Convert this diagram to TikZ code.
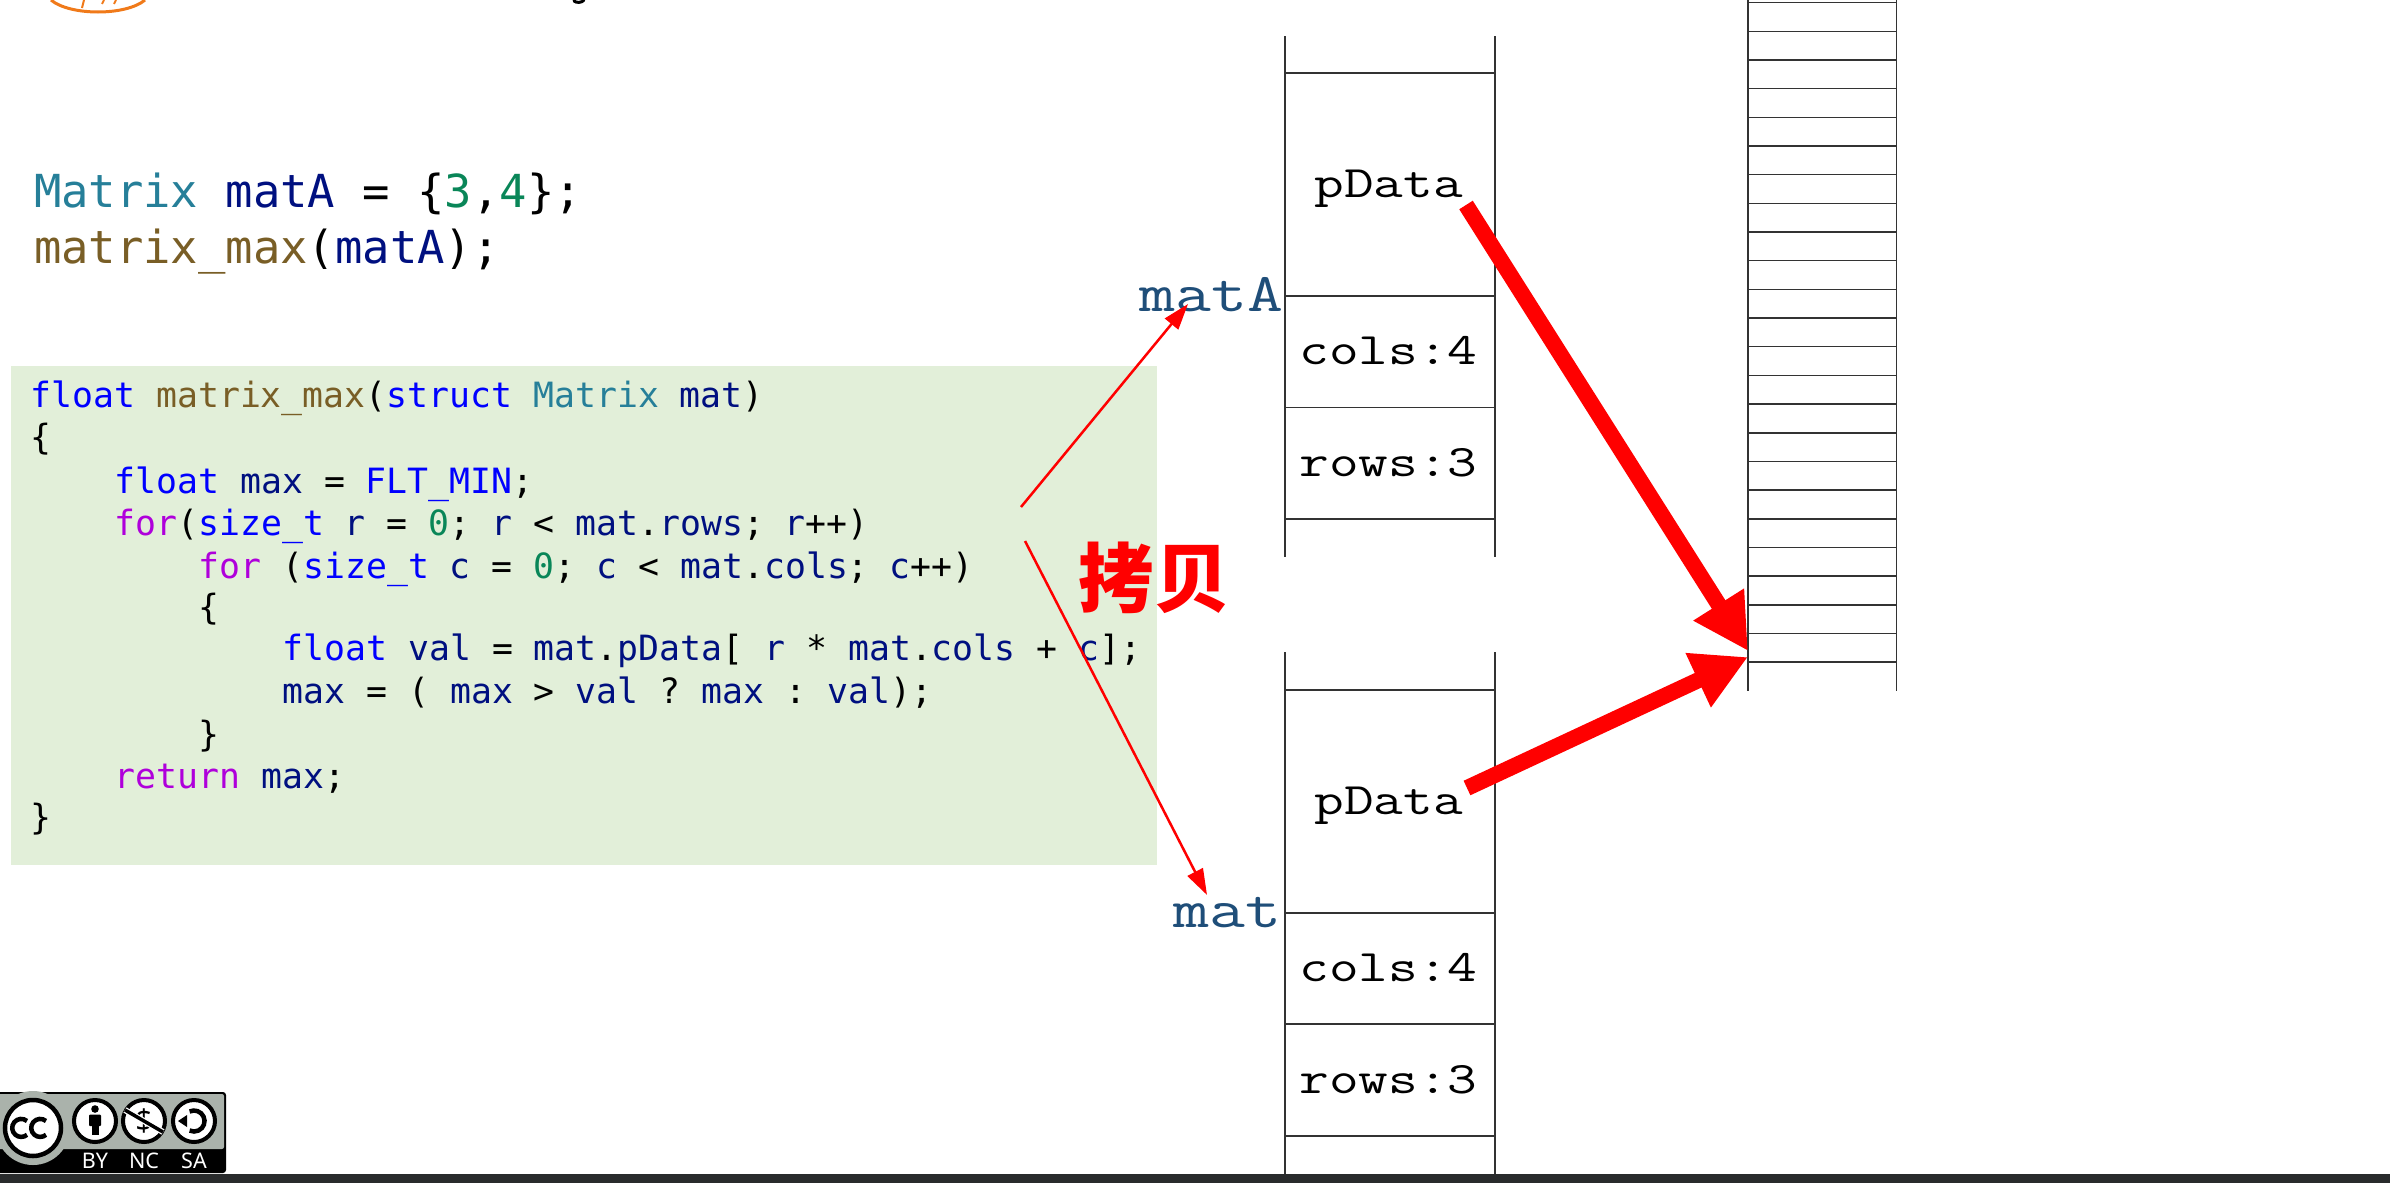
\documentclass[tikz,border=0pt]{standalone}
\usepackage{fontspec}
\usetikzlibrary{arrows.meta}
\frenchspacing
\setmonofont[FakeStretch=1.28]{Latin Modern Mono}
\newfontfamily\codefont{DejaVu Sans Mono}
\newfontfamily\cjkfont{Noto Sans CJK SC}
\newfontfamily\badgefont{Noto Sans}
\definecolor{ckw}{HTML}{0000FF}
\definecolor{cct}{HTML}{AF00DB}
\definecolor{cty}{HTML}{267F99}
\definecolor{cfn}{HTML}{795E26}
\definecolor{cvr}{HTML}{001080}
\definecolor{cnm}{HTML}{098658}
\definecolor{cgreen}{HTML}{E2EFD9}
\definecolor{cblue}{HTML}{1F4E79}
\definecolor{cline}{HTML}{333333}
\definecolor{cbadge}{HTML}{AAB2AB}
\definecolor{cbar}{HTML}{292B2C}
\definecolor{corange}{HTML}{F07A1A}
\newcommand\ckw[1]{\textcolor{ckw}{#1}}
\newcommand\cct[1]{\textcolor{cct}{#1}}
\newcommand\cty[1]{\textcolor{cty}{#1}}
\newcommand\cfn[1]{\textcolor{cfn}{#1}}
\newcommand\cvr[1]{\textcolor{cvr}{#1}}
\newcommand\cnm[1]{\textcolor{cnm}{#1}}
\tikzset{
  stackline/.style={draw=cline,line width=1.5pt},
  codeline/.style={anchor=base west,inner sep=0pt,outer sep=0pt,text=black,font=\codefont\fontsize{34.8}{40}\selectfont},
  bigcode/.style={anchor=base west,inner sep=0pt,outer sep=0pt,text=black,font=\codefont\fontsize{45.5}{50}\selectfont},
  cell/.style={anchor=base,inner sep=0pt,outer sep=0pt,text=black,font=\ttfamily\fontsize{45}{48}\selectfont},
  varname/.style={anchor=base east,inner sep=0pt,outer sep=0pt,text=cblue,font=\ttfamily\fontsize{54.5}{58}\selectfont},
  thinarrow/.style={draw=red,line width=2.5pt,-{Triangle[length=26pt,width=17pt]}},
  thickarrow/.style={draw=red,line width=16pt,-{Triangle[length=55pt,width=56pt]}},
  badgelabel/.style={anchor=base,inner sep=0pt,outer sep=0pt,text=white,font=\badgefont\bfseries\fontsize{21.5}{22}\selectfont},
  icon/.style={circle,draw=black,fill=white,line width=4pt,minimum size=42pt,inner sep=0pt}
}
\begin{document}
\begin{tikzpicture}[x=1pt,y=-1pt]
\useasboundingbox (0,0) rectangle (2390,1183);
% cropped header fragments
\draw[corange,line width=3pt] (51,0) .. controls (70,16) and (126,16) .. (145,0);
\draw[corange,line width=2pt] (84,0) -- (82,8) (104,0) -- (102,4) (116,0) -- (114,4);
\draw[black,line width=3pt,line cap=round] (574,1) .. controls (576,3) and (582,3) .. (584,0);
% top code
\node[bigcode] (top1) at (34,207) {\cty{Matrix} \cvr{matA} = \{\cnm{3},\cnm{4}\};};
\node[bigcode] (top2) at (34,263) {\cfn{matrix\_max}(\cvr{matA});};
% code box
\fill[cgreen] (11,366) rectangle (1157,865);
\node[codeline] (c1) at (30.5,407) {\ckw{float} \cfn{matrix\_max}(\ckw{struct} \cty{Matrix} \cvr{mat})};
\node[codeline] (c2) at (30.5,449.5) {\{};
\node[codeline] (c3) at (114.5,493) {\ckw{float} \cvr{max} = \ckw{FLT\_MIN};};
\node[codeline] (c4) at (114.5,535) {\cct{for}(\ckw{size\_t} \cvr{r} = \cnm{0}; \cvr{r} < \cvr{mat}.\cvr{rows}; \cvr{r}++)};
\node[codeline] (c5) at (198.5,578) {\cct{for} (\ckw{size\_t} \cvr{c} = \cnm{0}; \cvr{c} < \cvr{mat}.\cvr{cols}; \cvr{c}++)};
\node[codeline] (c6) at (198.5,619) {\{};
\node[codeline] (c7) at (282.5,660.5) {\ckw{float} \cvr{val} = \cvr{mat}.\cvr{pData}[ \cvr{r} * \cvr{mat}.\cvr{cols} + \cvr{c}];};
\node[codeline] (c8) at (282.5,703.5) {\cvr{max} = ( \cvr{max} > \cvr{val} ? \cvr{max} : \cvr{val});};
\node[codeline] (c9) at (198.5,746.5) {\}};
\node[codeline] (c10) at (114.5,788.5) {\cct{return} \cvr{max};};
\node[codeline] (c11) at (30.5,829) {\}};
% left stacks
\draw[stackline] (1285,36) -- (1285,557) (1495,36) -- (1495,557);
\foreach \yy in {73,296,407.5,519} \draw[stackline] (1285,\yy) -- (1495,\yy);
\draw[stackline] (1285,652) -- (1285,1174) (1495,652) -- (1495,1174);
\foreach \yy in {690,913,1024,1136} \draw[stackline] (1285,\yy) -- (1495,\yy);
% heap
\draw[stackline] (1748,0) -- (1748,691) (1896.5,0) -- (1896.5,691);
\foreach \k in {0,...,23} \draw[stackline] (1748,2.7+28.67*\k) -- (1896.5,2.7+28.67*\k);
% cell labels
\node[cell] (pA) at (1388.5,197) {pData};
\node[cell] (cA) at (1388.5,364) {cols:4};
\node[cell] (rA) at (1388.5,476) {rows:3};
\node[cell] (pB) at (1388.5,814) {pData};
\node[cell] (cB) at (1388.5,981) {cols:4};
\node[cell] (rB) at (1388.5,1093) {rows:3};
\node[varname] (matA) at (1283,311) {matA};
\node[varname] (mat) at (1281,927) {mat};
% copy label
\node[inner sep=0pt,text=red,font=\cjkfont\bfseries\fontsize{75.5}{78}\selectfont] (copy) at (1154,578) {拷贝};
% arrows
\coordinate (t1s) at (1021,507);
\coordinate (t1e) at (1188,304);
\coordinate (t2s) at (1025,541);
\coordinate (t2e) at (1207,895);
\coordinate (h1s) at (1466,205);
\coordinate (h1e) at (1748,651);
\coordinate (h2s) at (1467,788);
\coordinate (h2e) at (1748,657);
\draw[thinarrow] (t1s) -- (t1e);
\draw[thinarrow] (t2s) -- (t2e);
\draw[thickarrow] (h1s) -- (h1e);
\draw[thickarrow] (h2s) -- (h2e);
% licence badge
\fill[black,rounded corners=3pt] (-6,1092) rectangle (226,1173);
\fill[cbadge,rounded corners=2pt] (-6,1094) rectangle (224,1149);
\fill[cbadge] (33,1128) circle (37);
\node[circle,draw=black,fill=white,line width=4.5pt,minimum size=56pt,inner sep=0pt] (ccicon) at (33,1128) {};
\draw[black,line width=4.5pt] (27,1121) arc[start angle=-50,end angle=-310,radius=9];
\draw[black,line width=4.5pt] (46,1121) arc[start angle=-50,end angle=-310,radius=9];
\node[icon] (by) at (95,1121) {};
\fill[black] (95,1109) circle (3.8);
\fill[black,rounded corners=1pt] (89,1114.5) rectangle (101,1126);
\fill[black] (91.5,1126) rectangle (98.5,1134.5);
\node[icon] (nc) at (144,1121) {};
\node[inner sep=0pt,text=black,font=\badgefont\bfseries\fontsize{30}{30}\selectfont] (ncd) at (144,1121) {\$};
\draw[white,line width=6pt] (125,1110) -- (163,1132);
\draw[black,line width=3.5pt] (125,1110) -- (163,1132);
\node[icon] (sa) at (194,1121) {};
\draw[black,line width=4.5pt] (189.6,1111.5) arc[start angle=-115,end angle=115,radius=10.5];
\fill[black] (178,1121) -- (187,1115) -- (187,1127) -- cycle;
\node[badgelabel] (lby) at (95,1168) {BY};
\node[badgelabel] (lnc) at (144,1168) {NC};
\node[badgelabel] (lsa) at (194,1168) {SA};
% bottom bar
\fill[cbar] (0,1174) rectangle (2390,1183);
\end{tikzpicture}
\end{document}
